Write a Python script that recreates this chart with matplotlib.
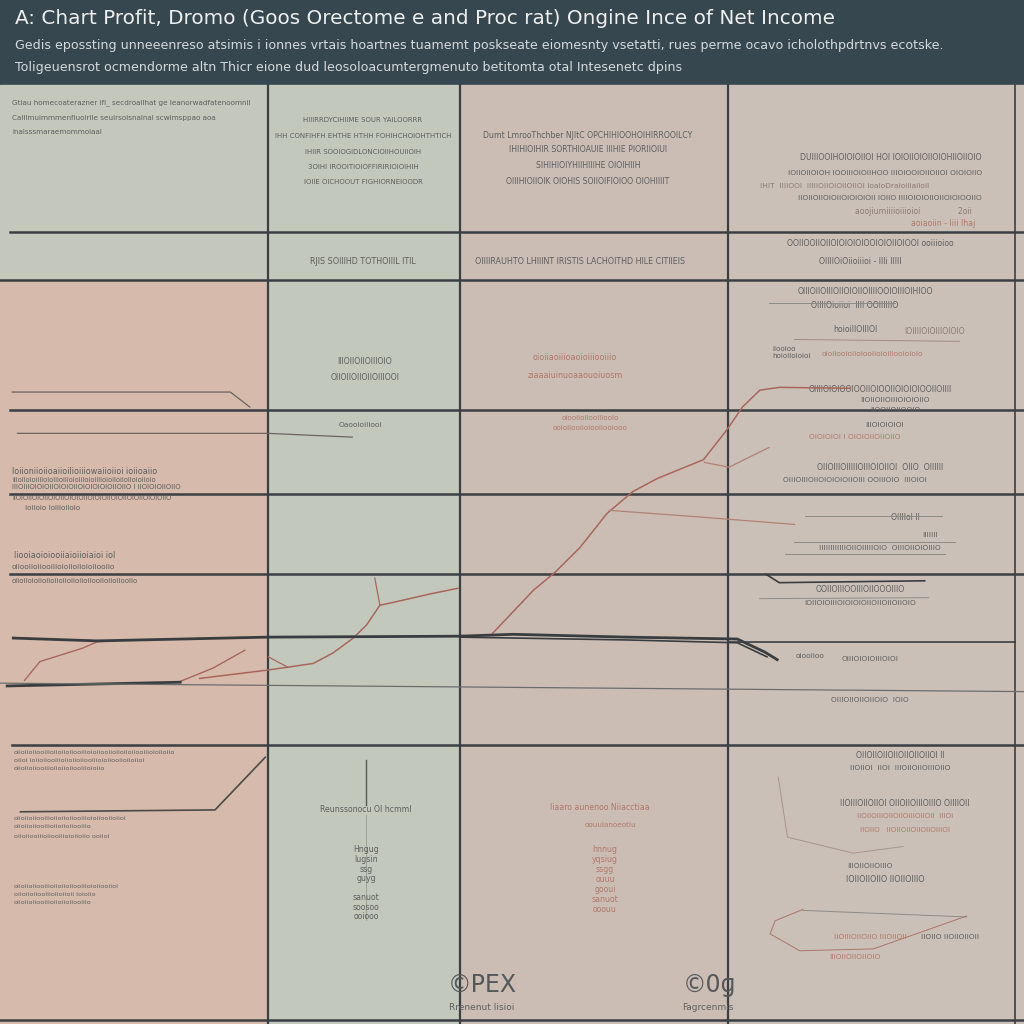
import matplotlib
matplotlib.use("Agg")
import matplotlib.pyplot as plt
from matplotlib.patches import Rectangle

# ---- data (index values, 0-100 scale) ----
title = "A: Chart Profit, Dromo (Goos Orectome e and Proc rat) Ongine Ince of Net Income"
subtitle = ["Gedis epossting unneeenreso atsimis i ionnes vrtais hoartnes tuamemt poskseate eiomesnty vsetatti, rues perme ocavo icholothpdrtnvs ecotske.",
            "Toligeuensrot ocmendorme altn Thicr eione dud leosoloacumtergmenuto betitomta otal Intesenetc dpins"]

gross_x = [48.1, 52.1, 54.2, 56.6, 59.3, 61.8, 64.2, 68.7, 71.0, 72.5, 74.2, 76.1, 83.0]
gross_y = [41.6, 46.2, 48.1, 50.7, 54.4, 56.7, 58.1, 60.1, 63.3, 65.7, 67.5, 67.8, 67.7]
profit_x = [19.5, 26.2, 28.1, 30.6, 32.5, 34.5, 35.8, 37.1, 38.4, 42.0, 44.7]
profit_y = [36.8, 37.7, 38.0, 38.4, 39.5, 41.1, 42.5, 44.6, 44.9, 45.8, 46.4]
spur_x = [36.6, 37.1]
spur_y = [47.5, 44.6]
early_x = [2.4, 3.9, 8.0, 9.5, 12.7]
early_y = [36.6, 38.6, 40.0, 40.7, 40.9]
mid_x = [17.4, 20.8, 23.9]
mid_y = [36.4, 37.9, 39.8]
kink_x = [26.2, 28.1]
kink_y = [39.1, 38.0]
cost_x = [59.5, 68.3, 77.6]
cost_y = [54.7, 54.0, 53.2]
margin_x = [68.8, 71.2, 75.1]
margin_y = [59.8, 59.3, 61.4]

net_x = [1.3, 9.5, 26.1, 44.9, 50.1, 61.2, 72.0, 74.7, 75.9]
net_y = [41.1, 40.8, 41.2, 41.3, 41.5, 41.2, 41.0, 39.6, 38.8]
net2_x = [44.9, 61.2, 72.0, 74.9]
net2_y = [41.2, 40.9, 40.6, 39.1]
oper_x = [0.7, 17.6]
oper_y = [36.0, 36.4]
base_x = [0.0, 100.0]
base_y = [36.3, 35.4]

top1_x = [1.2, 22.5, 24.4]
top1_y = [67.3, 67.3, 65.7]
top2_x = [1.7, 26.2, 34.4]
top2_y = [62.9, 62.9, 62.5]
low_x = [2.0, 21.0, 25.9]
low_y = [22.6, 22.8, 28.4]
right_x = [74.8, 76.1, 90.3]
right_y = [47.9, 47.0, 47.2]

# faint guide lines in the right column: (x list, y list, colour)
guides = [
    ([75.1, 87.4], [76.8, 76.8], "#8e8a86"),
    ([77.6, 93.7], [72.9, 72.7], "#a08c84"),
    ([78.6, 92.0], [54.1, 54.1], "#8e8a86"),
    ([77.5, 93.3], [51.3, 51.3], "#8e8a86"),
    ([76.7, 92.3], [50.1, 50.1], "#8e8a86"),
    ([74.2, 90.7], [45.3, 45.4], "#8e8a86"),
    ([76.0, 76.9, 83.3, 88.2], [26.3, 19.9, 18.2, 18.9], "#a8958c"),
    ([78.4, 75.7, 75.2, 78.1, 85.3, 94.4], [12.2, 11.0, 9.6, 7.8, 8.0, 11.5], "#a8756a"),
    ([78.4, 94.4], [12.1, 11.4], "#8e8a86"),
]

# ---- text blocks: (x px, y px, text, size, color, ha) ----
dark = "#5d5f5f"
red = "#b0786c"
notes = [
    (12, 103, "Gtlau homecoaterazner ifi_ secdroallhat ge leanorwadfatenoomnil", 5.2, dark, "left"),
    (12, 118, "Caillmuimmmenfiuoirile seuirsoisnainal scwimsppao aoa", 5.2, dark, "left"),
    (12, 132, "inaisssmaraemommoiaai", 5.2, dark, "left"),
    (363, 120, "HIIIRRDYCIHIIME SOUR YAILOORRR", 5.0, dark, "center"),
    (363, 136, "IHH CONFIHFH EHTHE HTHH FOHIHCHOIOHTHTICH", 5.0, dark, "center"),
    (363, 152, "IHIIR SOOIOGIDLONCIOIIHOUIIOIH", 5.0, dark, "center"),
    (363, 167, "3OIHI IROOITIOIOFFIRIRIOIOIHIH", 5.0, dark, "center"),
    (363, 182, "IOIIE OICHOOUT FIGHIORNEIOODR", 5.0, dark, "center"),
    (363, 262, "RJIS SOIIIHD TOTHOIIIL ITIL", 5.8, dark, "center"),
    (588, 136, "Dumt LmrooThchber NJItC OPCHIHIOOHOIHIRROOILCY", 5.6, dark, "center"),
    (588, 150, "IHIHIOIHIR SORTHIOAUIE IIIHIE PIORIIOIUI", 5.6, dark, "center"),
    (588, 166, "SIHIHIOIYHIIHIIIHE OIOIHIIH", 5.6, dark, "center"),
    (588, 182, "OIIIHIOIIOIK OIOHIS SOIIOIFIOIOO OIOHIIIIT", 5.6, dark, "center"),
    (580, 262, "OIIIIRAUHTO LHIIINT IRISTIS LACHOITHD HILE CITIIEIS", 5.8, dark, "center"),
    (982, 157, "DUIIIOOIHOIOIOIIOI HOI IOIOIIOIOIIOIOHIIOIIOIO", 5.6, dark, "right"),
    (982, 173, "IOIIOIIOIOH IOOIIIOIOIIHOO IIIOIOOIOIIOIIOI OIOIOIIO", 5.4, dark, "right"),
    (760, 186, "IHIT  IIIIOOI  IIIIIOIIOIOIIOIIOI ioaioDraioiiiaiioil", 5.4, "#8b7b74", "left"),
    (982, 198, "IIOIIOIIOIOIIOIOIOIOII IOIIO IIIIOIOIOIIOIIOIOIOOIIO", 5.4, dark, "right"),
    (972, 211, "aoojiumiiiioiiioioi               2oii", 5.6, "#8b7b74", "right"),
    (975, 223, "aoiaoiin - Iiii Ihaj", 5.6, red, "right"),
    (870, 244, "OOIIOOIIOIIOIOIOIOIOOIOIOIIOIOOI ooiiioioo", 5.6, dark, "center"),
    (860, 261, "OIIIIOiOiioiiioi - IIIi IIIII", 5.6, dark, "center"),
    (865, 291, "OIIIOIIOIIIOIIOIOIIOIIIIOOIOIIIOIHIOO", 5.6, dark, "center"),
    (855, 305, "OIIIIOioiioi  IIII OOIIIIIIO", 5.6, dark, "center"),
    (855, 329, "hoioiIIOIIIOI", 5.6, dark, "center"),
    (935, 331, "IOIIIIOIOIIIOIOIO", 5.6, "#8b7b74", "center"),
    (772, 349, "iiooioo", 5.2, dark, "left"),
    (772, 356, "hoioiioioioi", 5.2, dark, "left"),
    (822, 354, "oioiiooioiioiooiioioiiiooioioio", 5.4, red, "left"),
    (880, 390, "OIIIIOIOIOOIOOIIOIOOIIOIOIOIOOIIOIIII", 5.6, dark, "center"),
    (895, 400, "IIOIIOIIOIIIOIOIOIIO", 5.4, dark, "center"),
    (895, 410, "IIOOIIOIIOOIO", 5.4, dark, "center"),
    (885, 425, "IIIOIOIOIOI", 5.4, dark, "center"),
    (855, 437, "OIOIOIOI I OIOIOIIOIIOIIO", 5.4, red, "center"),
    (880, 467, "OIIOIIIOIIIIIOIIIOIOIIOI  OIIO  OIIIIII", 5.6, dark, "center"),
    (855, 480, "OIIIOIIIOIIOIOIOIOIIOIII OOIIIOIO  IIIOIOI", 5.4, dark, "center"),
    (905, 518, "OIIIIoI II", 5.6, dark, "center"),
    (930, 535, "IIIIIII", 5.4, dark, "center"),
    (880, 548, "IIIIIIIIIIIIOIIOIIIIIOIO  OIIIOIIOIOIIIO", 5.4, dark, "center"),
    (860, 589, "OOIIOIIIOOIIIOIIOOOIIIO", 5.6, dark, "center"),
    (860, 603, "IOIIOIOIIIOIOIOIOIIOIIOIIOIIOIO", 5.4, dark, "center"),
    (870, 659, "OIIIOIOIOIIIOIOI", 5.4, dark, "center"),
    (810, 656, "oiooiioo", 5.4, dark, "center"),
    (870, 700, "OIIIOIIOIIOIIOIO  IOIO", 5.4, dark, "center"),
    (900, 755, "OIIOIIOIIOIIOIIOIIOIIOI II", 5.6, dark, "center"),
    (900, 768, "IIOIIOI  IIOI  IIIOIIOIIOIIIOIIO", 5.4, dark, "center"),
    (905, 803, "IIOIIIOIIOIIOI OIIOIIOIIIOIIIO OIIIIOII", 5.6, dark, "center"),
    (905, 816, "IIOIIOIIIOIIOIIOIIIOIIOII  IIIOI", 5.2, red, "center"),
    (905, 830, "IIOIIO   IIOIIOIIOIIOIIOIIIOI", 5.2, red, "center"),
    (870, 866, "IIIOIIOIIOIIIO", 5.4, dark, "center"),
    (885, 880, "IOIIOIIOIIO IIOIIOIIIO", 5.8, dark, "center"),
    (870, 937, "IIOIIIOIIOIIO IIIOIIOII", 5.4, red, "center"),
    (950, 937, "IIOIIO IIOIIOIIOII", 5.4, dark, "center"),
    (855, 957, "IIIOIIOIIOIIOIO", 5.4, red, "center"),
    (575, 358, "oioiiaoiiioaoioiiiooiiio", 5.8, red, "center"),
    (575, 375, "ziaaaiuinuoaaouoiuosm", 5.8, red, "center"),
    (590, 418, "oiooiioiiooiiiooio", 5.2, red, "center"),
    (590, 428, "ooioiiooiioiooiiooiooo", 5.2, red, "center"),
    (365, 362, "IIIOIIOIIOIIIOIO", 5.6, dark, "center"),
    (365, 378, "OIIOIIOIIOIIOIIIOOI", 5.6, dark, "center"),
    (360, 425, "Oaooioiiiooi", 5.4, dark, "center"),
    (12, 472, "Ioiioniioiioaiioilioiiiowaiioiioi ioiioaiio", 5.8, dark, "left"),
    (12, 480, "iiioiioioiiiioioiiioiiioioiiioioiiiioioiioiioiioioiioio", 4.8, dark, "left"),
    (12, 487, "IIIOIIIOIOIOIIOIOIOIIOIOIOIOIOIIOIIO I IIOIOIOIIOIIO", 5.0, dark, "left"),
    (12, 498, "IIOIOIIOIOIIOIOIIOIOIOIIOIOIOIIOIOIIOIOIIOIOIOIIO", 4.8, dark, "left"),
    (25, 508, "Ioiioio Ioiiioiioio", 5.2, dark, "left"),
    (14, 556, "Iiooiaoioiooiiaioiioiaioi iol", 5.8, dark, "left"),
    (12, 567, "oiiooiioiiooiiioioiioiioioiiooiio", 5.4, dark, "left"),
    (12, 581, "oiioiioioiioiioiioiioiioiioiiooiioiioiiooiio", 5.0, dark, "left"),
    (14, 752, "oiioiioiiooiiioiioiioiiooiiioioiiooiioiioiioiiooiiioioiioiio", 4.6, dark, "left"),
    (14, 760, "oiioi ioiioiiooiiioiioiioiiooiiioioiiooiioiioiioi", 4.6, dark, "left"),
    (14, 768, "oiioiioiiooiiioiioiioiiooiiioioiio", 4.6, dark, "left"),
    (14, 819, "oiioiioiiooiiioiioiioiiooiiioioiiooiioiioi", 4.6, dark, "left"),
    (14, 827, "oiioiioiiooiiioiioiioiiooiiio", 4.6, dark, "left"),
    (14, 836, "oiioiiooiiioiiooiiioioiioiio ooiioi", 4.6, dark, "left"),
    (14, 887, "oiioiioiiooiiioiioiioiiooiiioioiiooiioi", 4.6, dark, "left"),
    (14, 895, "oiioiioiiooiiioiioiioii ioioiio", 4.6, dark, "left"),
    (14, 903, "oiioiioiiooiiioiioiioiiooiiio", 4.6, dark, "left"),
    (366, 809, "Reunssonocu Ol hcmml", 5.6, dark, "center"),
    (600, 808, "Iiaaro aunenoo Niiacctiaa", 5.6, red, "center"),
    (610, 825, "oouulanoeotiu", 5.2, red, "center"),
]
stack_words = ["Hngug", "Iugsin", "ssg", "guyg", "", "sanuot", "soosoo", "ooiooo"]
stack_words3 = ["hnnug", "yqsiug", "ssgg", "ouuu", "gooui", "sanuot", "ooouu"]
icons = [(482, 985, "©PEX"), (710, 985, "©0ɡ")]
icon_labels = [(482, 1007, "Rrenenut lisioi"), (708, 1007, "Fagrcenmis")]

plt.rcParams['font.family'] = ['DejaVu Sans']

fig = plt.figure(figsize=(10.24, 10.24), dpi=100)
lay = fig.add_axes([0, 0, 1, 1])
lay.set_xlim(0, 1024)
lay.set_ylim(1024, 0)
lay.axis('off')

# panel backgrounds
panels = [(0, 0, 1024, 85, "#37474f"),
          (0, 85, 268, 195, "#c4c7bc"),
          (0, 280, 268, 744, "#d6baab"),
          (268, 85, 192, 939, "#c3c8bd"),
          (460, 85, 268, 939, "#cbbdb4"),
          (728, 85, 296, 939, "#cbc0b8")]
for px, py, w, h, c in panels:
    lay.add_patch(Rectangle((px, py), w, h, color=c, zorder=0))

lay.text(15, 18, title, color="#eef0f0", fontsize=14.4, va="center", ha="left")
lay.text(15, 46, subtitle[0], color="#d4dadc", fontsize=9.1, va="center", ha="left")
lay.text(15, 68, subtitle[1], color="#d4dadc", fontsize=9.1, va="center", ha="left")

# grid lines
gc = "#3b3f43"
for yy, x0 in [(232, 10), (280, 0), (410, 10), (494, 10), (574, 10), (745, 12), (1020, 0)]:
    lay.plot([x0, 1024], [yy, yy], color=gc, lw=1.8, zorder=2)
for xx in [268, 460, 728]:
    lay.plot([xx, xx], [85, 1024], color=gc, lw=1.6, zorder=2)
lay.plot([1015, 1015], [85, 1024], color=gc, lw=1.2, zorder=2)
lay.plot([728, 1015], [642, 642], color=gc, lw=1.2, zorder=2)
lay.plot([366, 366], [760, 805], color="#55585a", lw=1.0, zorder=2)
lay.plot([366, 366], [815, 920], color="#9a9a96", lw=0.6, zorder=2)

for x, y, s, fs, c, ha in notes:
    lay.text(x, y, s, fontsize=fs, color=c, ha=ha, va="center", zorder=3)
for i, w in enumerate(stack_words):
    lay.text(366, 850 + i * 9.5, w, fontsize=5.6, color=dark, ha="center", va="center")
for i, w in enumerate(stack_words3):
    lay.text(605, 850 + i * 10, w, fontsize=5.6, color=red, ha="center", va="center")
for x, y, s in icons:
    lay.text(x, y, s, fontsize=17, color="#55585a", ha="center", va="center")
for x, y, s in icon_labels:
    lay.text(x, y, s, fontsize=6.5, color=dark, ha="center", va="center")

# data lines
ax = fig.add_axes([0, 0, 1, 939 / 1024])
ax.set_xlim(0, 100)
ax.set_ylim(0, 100)
ax.axis('off')
ax.patch.set_alpha(0)

for gx, gy, gcol in guides:
    ax.plot(gx, gy, color=gcol, lw=0.7)

rc = "#a8675c"
ax.plot(gross_x, gross_y, color=rc, lw=1.1)
ax.plot(profit_x, profit_y, color=rc, lw=1.1)
ax.plot(spur_x, spur_y, color=rc, lw=0.9)
ax.plot(early_x, early_y, color=rc, lw=1.0)
ax.plot(mid_x, mid_y, color=rc, lw=1.0)
ax.plot(kink_x, kink_y, color=rc, lw=0.9)
ax.plot(cost_x, cost_y, color="#b08276", lw=0.9)
ax.plot(margin_x, margin_y, color="#b08276", lw=0.9)
ax.plot(net_x, net_y, color="#3a3d40", lw=2.0)
ax.plot(net2_x, net2_y, color="#3a3d40", lw=1.2)
ax.plot(oper_x, oper_y, color="#3a3d40", lw=2.0)
ax.plot(base_x, base_y, color="#6b6d6d", lw=0.9)
ax.plot(top1_x, top1_y, color="#6b6461", lw=0.9)
ax.plot(top2_x, top2_y, color="#6b6461", lw=0.9)
ax.plot(low_x, low_y, color="#4d4a48", lw=1.2)
ax.plot(right_x, right_y, color="#3a3d40", lw=1.2)

fig.savefig("out.png", dpi=100)
